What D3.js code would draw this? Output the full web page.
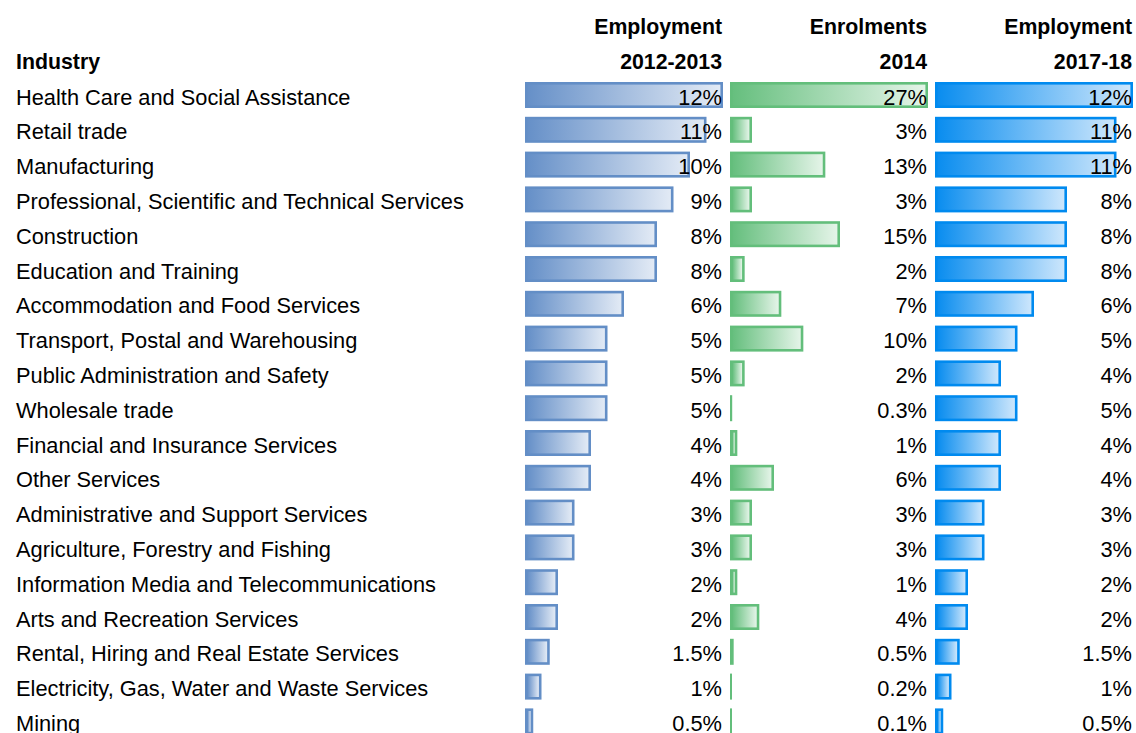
<!DOCTYPE html>
<html>
<head>
<meta charset="utf-8">
<script src="https://cdn.jsdelivr.net/npm/d3@7"></script>
<style>
  html, body { margin: 0; padding: 0; background: #ffffff; }
  svg { display: block; font-family: "Liberation Sans", Arial, sans-serif; }
</style>
</head>
<body>
<svg id="chart" width="1136" height="733"></svg>
<script>
// Industry shares: employment 2012-13, enrolments 2014, employment 2017-18 (percent)
const industries = [
  "Health Care and Social Assistance",
  "Retail trade",
  "Manufacturing",
  "Professional, Scientific and Technical Services",
  "Construction",
  "Education and Training",
  "Accommodation and Food Services",
  "Transport, Postal and Warehousing",
  "Public Administration and Safety",
  "Wholesale trade",
  "Financial and Insurance Services",
  "Other Services",
  "Administrative and Support Services",
  "Agriculture, Forestry and Fishing",
  "Information Media and Telecommunications",
  "Arts and Recreation Services",
  "Rental, Hiring and Real Estate Services",
  "Electricity, Gas, Water and Waste Services",
  "Mining"
];
const employment2012 = [12, 11, 10, 9, 8, 8, 6, 5, 5, 5, 4, 4, 3, 3, 2, 2, 1.5, 1, 0.5];
const enrolments2014 = [27, 3, 13, 3, 15, 2, 7, 10, 2, 0.3, 1, 6, 3, 3, 1, 4, 0.5, 0.2, 0.1];
const employment2017 = [12, 11, 11, 8, 8, 8, 6, 5, 4, 5, 4, 4, 3, 3, 2, 2, 1.5, 1, 0.5];

const headerLine1 = ["Employment", "Enrolments", "Employment"];
const headerLine2 = ["2012-2013", "2014", "2017-18"];
const rowHeader = "Industry";

const columns = [
  { values: employment2012, x0: 525, stroke: "#638EC6", from: "#6690C8", to: "#E2EAF5" },
  { values: enrolments2014, x0: 730, stroke: "#63BE7B", from: "#66BF7E", to: "#E4F4E8" },
  { values: employment2017, x0: 935, stroke: "#008AEF", from: "#0A8DEF", to: "#CCE6FC" }
];
const colWidth = 198;
const boldSize = 21.3;
const fontSize = 21.8;
const rowStep = 34.8;
const firstRow = 97;
const barH = 26;
const sw = 2.6;

const svg = d3.select("#chart");
const defs = svg.append("defs");

columns.forEach((c, i) => {
  const g = defs.append("linearGradient")
    .attr("id", "grad" + i)
    .attr("x1", "0%").attr("x2", "100%").attr("y1", "0%").attr("y2", "0%");
  g.append("stop").attr("offset", "0%").attr("stop-color", c.from);
  g.append("stop").attr("offset", "100%").attr("stop-color", c.to);
});

// Row positions
const y = d3.scalePoint()
  .domain(industries)
  .range([firstRow, firstRow + rowStep * (industries.length - 1)]);

// Headers
svg.append("text")
  .attr("x", 16).attr("y", 62)
  .attr("dy", "0.35em")
  .attr("font-size", boldSize)
  .attr("font-weight", "bold")
  .attr("fill", "#000")
  .text(rowHeader);

columns.forEach((c, i) => {
  const right = c.x0 + colWidth - 1;
  svg.append("text")
    .attr("x", right).attr("y", 27).attr("dy", "0.35em")
    .attr("text-anchor", "end")
    .attr("font-size", boldSize).attr("font-weight", "bold")
    .text(headerLine1[i]);
  svg.append("text")
    .attr("x", right).attr("y", 62).attr("dy", "0.35em")
    .attr("text-anchor", "end")
    .attr("font-size", boldSize).attr("font-weight", "bold")
    .text(headerLine2[i]);
});

// Industry names
svg.append("g")
  .selectAll("text")
  .data(industries)
  .join("text")
  .attr("x", 16)
  .attr("y", d => y(d))
  .attr("dy", "0.35em")
  .attr("font-size", fontSize)
  .attr("fill", "#000")
  .text(d => d);

// Data bars per column
const fmt = v => v + "%";

columns.forEach((c, i) => {
  const x = d3.scaleLinear()
    .domain([0, d3.max(c.values)])
    .range([0, colWidth]);

  const rows = industries.map((name, k) => ({ name, v: c.values[k] }));
  const g = svg.append("g");

  const bar = g.selectAll("g.bar")
    .data(rows)
    .join("g")
    .attr("class", "bar")
    .attr("transform", d => `translate(${c.x0},${y(d.name) - 15})`);

  // outer solid frame
  bar.append("rect")
    .attr("x", 0).attr("y", 0)
    .attr("width", d => Math.max(x(d.v), 2))
    .attr("height", barH)
    .attr("fill", c.stroke);

  // inner gradient fill
  bar.filter(d => x(d.v) > sw * 2 + 0.5)
    .append("rect")
    .attr("x", sw).attr("y", sw)
    .attr("width", d => x(d.v) - sw * 2)
    .attr("height", barH - sw * 2)
    .attr("fill", `url(#grad${i})`);

  // value labels
  g.selectAll("text")
    .data(rows)
    .join("text")
    .attr("x", c.x0 + colWidth - 1)
    .attr("y", d => y(d.name))
    .attr("dy", "0.35em")
    .attr("text-anchor", "end")
    .attr("font-size", fontSize)
    .attr("fill", "#000")
    .text(d => fmt(d.v));
});
</script>
</body>
</html>
